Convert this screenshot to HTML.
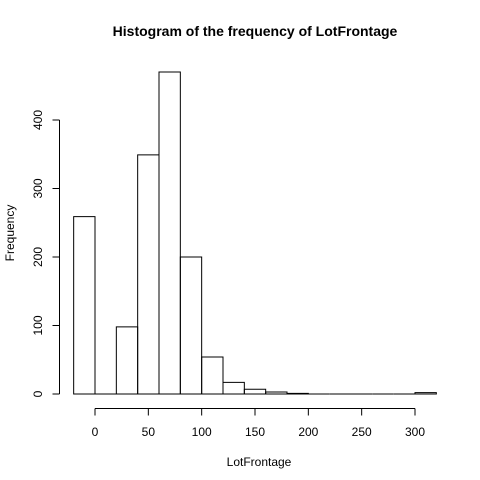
<!DOCTYPE html>
<html><head><meta charset="utf-8"><style>
body{margin:0;background:#fff}
svg{display:block;font-family:"Liberation Sans",Arial,sans-serif}
</style></head><body>
<svg id="chart" width="480" height="480">
<text x="255" y="36" text-anchor="middle" font-weight="bold" font-size="14">Histogram of the frequency of LotFrontage</text>
<text x="259" y="466" text-anchor="middle" font-size="12">LotFrontage</text>
<text transform="translate(14,233) rotate(-90)" text-anchor="middle" font-size="12">Frequency</text>
<g id="bars"></g><g id="xaxis"></g><g id="yaxis"></g>
</svg>
<script>
const binStarts=[-20,0,20,40,60,80,100,120,140,160,180,200,220,240,260,280,300];
const counts=[259,0,98,349,470,200,54,17,7,3,1,0,0,0,0,0,2];
const binWidth=20;
const xTicks=[0,50,100,150,200,250,300];
const yTicks=[0,100,200,300,400];
const ns="http://www.w3.org/2000/svg";
function xs(v){return 95+v*320/300;}
function ys(v){return 394-v*0.685;}
const bars=document.getElementById('bars');
binStarts.forEach((b,i)=>{
 const p=document.createElementNS(ns,'path');
 const x0=xs(b),x1=xs(b+binWidth),y=ys(counts[i]),y0=ys(0);
 p.setAttribute('d','M'+x0+','+y0+'L'+x0+','+y+'L'+x1+','+y+'L'+x1+','+y0+'Z');
 p.setAttribute('fill','none');p.setAttribute('stroke','#000');p.setAttribute('stroke-width','1');
 
 
 bars.appendChild(p);
});
function line(g,x1,y1,x2,y2){const l=document.createElementNS(ns,'line');l.setAttribute('x1',x1);l.setAttribute('y1',y1);l.setAttribute('x2',x2);l.setAttribute('y2',y2);l.setAttribute('stroke','#000');g.appendChild(l);return l;}
function text(g,x,y,s,tr){const t=document.createElementNS(ns,'text');t.setAttribute('x',x);t.setAttribute('y',y);t.setAttribute('font-size','12');t.setAttribute('text-anchor','middle');if(tr)t.setAttribute('transform',tr);t.textContent=s;g.appendChild(t);return t;}
const xa=document.getElementById('xaxis');


line(xa,xs(xTicks[0]),408.5,xs(xTicks[xTicks.length-1]),408.5);
xTicks.forEach(v=>{line(xa,xs(v),408.5,xs(v),415.5);
 const t=text(xa,xs(v),436,String(v));
 
 });
const ya=document.getElementById('yaxis');


line(ya,59.5,ys(yTicks[0]),59.5,ys(yTicks[yTicks.length-1]));
yTicks.forEach(v=>{line(ya,52.5,ys(v),59.5,ys(v));
 const t=text(ya,42,ys(v),String(v),'rotate(-90,42,'+ys(v)+')');
 
 });
</script>
</body></html>
